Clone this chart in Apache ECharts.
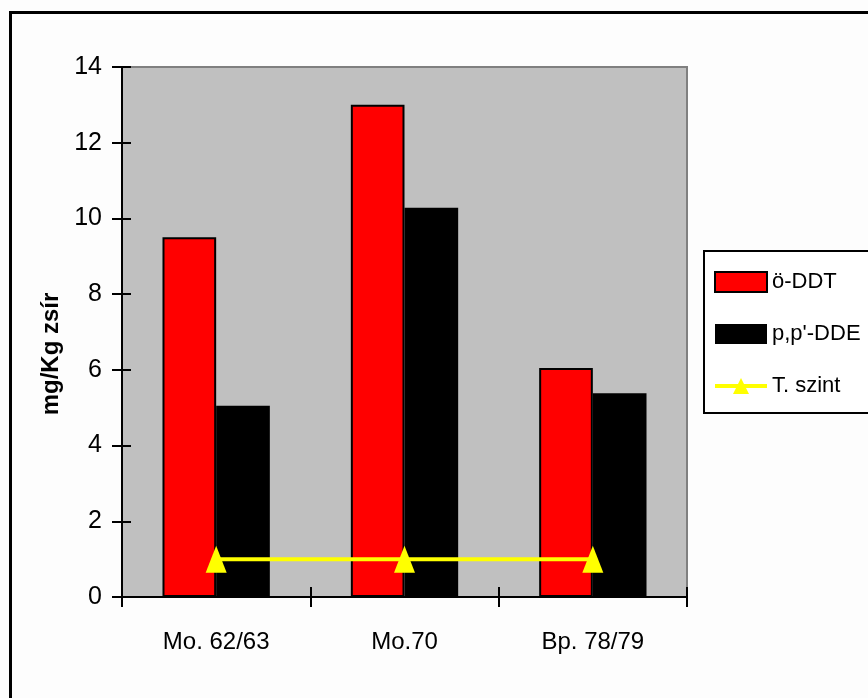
<!DOCTYPE html>
<html>
<head>
<meta charset="utf-8">
<script src="https://cdn.jsdelivr.net/npm/echarts@6/dist/echarts.min.js"></script>
<style>
html,body{margin:0;padding:0;background:#fdfdfd;}
#chart{width:868px;height:698px;}
</style>
</head>
<body>
<div id="chart"></div>
<script>
var categories = ['Mo. 62/63', 'Mo.70', 'Bp. 78/79'];
var ddtValues = [9.5, 13.0, 6.05];
var ddeValues = [5.05, 10.28, 5.38];
var szintValues = [1.0, 1.0, 1.0];
var yTicks = [0, 2, 4, 6, 8, 10, 12, 14];

var FONT = '"Liberation Sans", Arial, sans-serif';

var chart = echarts.init(document.getElementById('chart'), null, {renderer: 'canvas'});
chart.setOption({
  backgroundColor: '#fdfdfd',
  animation: false,
  graphic: [{
    type: 'rect',
    shape: {x: 10.5, y: 12.5, width: 1000, height: 1000},
    style: {fill: 'none', stroke: '#000', lineWidth: 3},
    z: 100
  }],
  grid: {
    left: 122, top: 67, right: 181, bottom: 101,
    show: true, backgroundColor: '#c0c0c0', borderColor: '#808080', borderWidth: 2
  },
  legend: {
    orient: 'vertical',
    left: 704, top: 251,
    backgroundColor: '#ffffff',
    borderColor: '#000', borderWidth: 2,
    padding: [20, 80, 16, 9],
    itemWidth: 52, itemHeight: 20, itemGap: 30, itemTextGap: 5,
    textStyle: {fontFamily: FONT, fontSize: 22, color: '#000'},
    data: [
      {name: 'ö-DDT', icon: 'rect'},
      {name: 'p,p\'-DDE', icon: 'rect'},
      {name: 'T. szint', lineStyle: {width: 4, color: '#ffff00'}}
    ]
  },
  xAxis: [{
    type: 'category',
    data: categories,
    axisLine: {lineStyle: {color: '#000', width: 2}},
    axisTick: {show: true, length: 10, lineStyle: {color: '#000', width: 2}},
    axisLabel: {fontFamily: FONT, fontSize: 24, color: '#000', margin: 33},
    splitLine: {show: false}
  }, {
    type: 'category',
    data: categories,
    position: 'bottom',
    axisLine: {show: false},
    axisTick: {show: true, inside: true, length: 10, lineStyle: {color: '#000', width: 2}},
    axisLabel: {show: false},
    splitLine: {show: false}
  }],
  yAxis: [{
    type: 'value',
    min: 0, max: 14, interval: 2,
    name: 'mg/Kg zsír',
    nameLocation: 'middle',
    nameGap: 55,
    nameRotate: 90,
    nameTextStyle: {fontFamily: FONT, fontWeight: 'bold', fontSize: 24, color: '#000', padding: [0, 44, 0, 0]},
    axisLine: {show: true, lineStyle: {color: '#000', width: 2}},
    axisTick: {show: true, length: 10, lineStyle: {color: '#000', width: 2}},
    axisLabel: {fontFamily: FONT, fontSize: 25, color: '#000', margin: 20,
      formatter: function (v) { return yTicks.indexOf(v) >= 0 ? String(v) : ''; }},
    splitLine: {show: false}
  }, {
    type: 'value',
    min: 0, max: 14, interval: 2,
    position: 'left',
    axisLine: {show: false},
    axisTick: {show: true, inside: true, length: 9, lineStyle: {color: '#000', width: 2}},
    axisLabel: {show: false},
    splitLine: {show: false}
  }],
  series: [{
    name: 'ö-DDT',
    type: 'bar',
    data: ddtValues,
    barGap: '0%',
    barCategoryGap: '43%',
    itemStyle: {color: '#ff0000', borderColor: '#000', borderWidth: 2}
  }, {
    name: 'p,p\'-DDE',
    type: 'bar',
    data: ddeValues,
    barGap: '0%',
    barCategoryGap: '43%',
    itemStyle: {color: '#000000'}
  }, {
    name: 'T. szint',
    type: 'line',
    data: szintValues,
    symbol: 'triangle',
    symbolSize: [21, 27],
    lineStyle: {color: '#ffff00', width: 4},
    itemStyle: {color: '#ffff00'},
    z: 5
  }]
});
</script>
</body>
</html>
